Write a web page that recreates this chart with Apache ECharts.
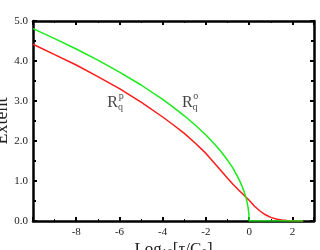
<!DOCTYPE html>
<html><head><meta charset="utf-8">
<script src="https://cdn.jsdelivr.net/npm/echarts@6/dist/echarts.min.js"></script>
<style>html,body{margin:0;padding:0;background:#fff}#c{width:320px;height:250px}</style>
</head><body><div id="c"></div>
<script>
var greenX = [-10,-9,-8,-7,-6,-5,-4,-3.5,-3,-2.5,-2,-1.5,-1.25,-1,-0.75,-0.5,-0.4,-0.3,-0.2,-0.15,-0.1,-0.05,-0.02,-0.01,0,1,2,2.5];
var greenY = [4.81,4.56,4.30,4.02,3.72,3.40,3.04,2.84,2.63,2.40,2.15,1.86,1.70,1.52,1.32,1.07,0.96,0.83,0.68,0.59,0.48,0.34,0.21,0.15,0,0,0,0];
var redX = [-10,-9,-8,-7,-6,-5,-4,-3.5,-3,-2.5,-2,-1.5,-1,-0.75,-0.5,-0.25,0,0.25,0.5,0.75,1,1.25,1.5,1.75,2,2.5];
var redY = [4.42,4.16,3.90,3.61,3.31,2.97,2.60,2.40,2.19,1.95,1.69,1.38,1.07,0.92,0.78,0.65,0.52,0.37,0.25,0.155,0.09,0.05,0.025,0.012,0.005,0];
var xTicks = [-8,-6,-4,-2,0,2];
var yTicks = [0,1,2,3,4,5];
var labelNames = ['p','o'];
var labelX = [-6.2,-2.75];
var labelY = [2.95,2.95];

function pairs(xs, ys){ return xs.map(function(x,i){return [x, ys[i]];}); }
var serif = '"Liberation Serif","DejaVu Serif",serif';
var chart = echarts.init(document.getElementById('c'));
var axisLineStyle = {color:'#000', width:2.5};
function xAx(pos, showLabel){
  return {type:'value', position:pos, min:-10, max:3, interval:2,
    axisLine:{show:true, onZero:false, lineStyle:axisLineStyle},
    axisTick:{show:true, inside:true, length:4, lineStyle:{color:'#000', width:2}},
    minorTick:{show:true, splitNumber:2, length:2, lineStyle:{color:'#000', width:1}},
    splitLine:{show:false},
    axisLabel:{show:showLabel, margin:6, fontFamily:serif, fontSize:11, color:'#222',
      formatter:function(v){return xTicks.indexOf(v)>=0 ? String(v) : '';}},
    name: showLabel ? '{a|Log}{s|10}{a|[τ/C}{s|0}{a|]}' : '',
    nameLocation:'middle', nameGap:19, nameMoveOverlap:false,
    nameTextStyle:{verticalAlign:'top', rich:{a:{fontFamily:serif, fontSize:17, color:'#222'}, s:{fontFamily:serif, fontSize:11, color:'#222', padding:[8,0,0,0]}}}
  };
}
function yAx(pos, showLabel){
  return {type:'value', position:pos, min:0, max:5, interval:1,
    axisLine:{show:true, onZero:false, lineStyle:axisLineStyle},
    axisTick:{show:true, inside:true, length:4, lineStyle:{color:'#000', width:2}},
    minorTick:{show:true, splitNumber:2, length:3, lineStyle:{color:'#000', width:2}},
    splitLine:{show:false},
    axisLabel:{show:showLabel, margin:5, fontFamily:serif, fontSize:11, color:'#222',
      formatter:function(v){return yTicks.indexOf(v)>=0 ? v.toFixed(1) : '';}},
    name: showLabel ? 'Extent' : '', nameLocation:'middle', nameGap:22, nameMoveOverlap:false,
    nameTextStyle:{fontFamily:serif, fontSize:18, color:'#222'}
  };
}
var lblData = labelNames.map(function(n,i){return {value:[labelX[i], labelY[i]], name:n};});
chart.setOption({
  animation:false,
  grid:{left:33, top:21, right:6, bottom:29, containLabel:false, outerBoundsMode:'none'},
  xAxis:[xAx('bottom', true), xAx('top', false)],
  yAxis:[yAx('left', true), yAx('right', false)],
  series:[
    {type:'line', data:pairs(redX, redY), showSymbol:false, smooth:false, z:5,
     lineStyle:{color:'#ff1a1a', width:1.5}},
    {type:'line', data:pairs(greenX, greenY), showSymbol:false, smooth:false, z:6,
     lineStyle:{color:'#1aeb1a', width:1.5}},
    {type:'scatter', symbolSize:0, z:7, data:lblData,
     label:{show:true, position:'inside', formatter:'{r|R}{sub|q}',
       rich:{r:{fontFamily:serif, fontSize:16, color:'#111'},
             sub:{fontFamily:serif, fontSize:10, color:'#111', padding:[9,0,0,0]}}}},
    {type:'scatter', symbolSize:0, z:7, data:lblData,
     label:{show:true, position:'inside', offset:[6,-7], formatter:'{b}',
       fontFamily:serif, fontSize:10, color:'#111'}}
  ]
});
</script></body></html>
